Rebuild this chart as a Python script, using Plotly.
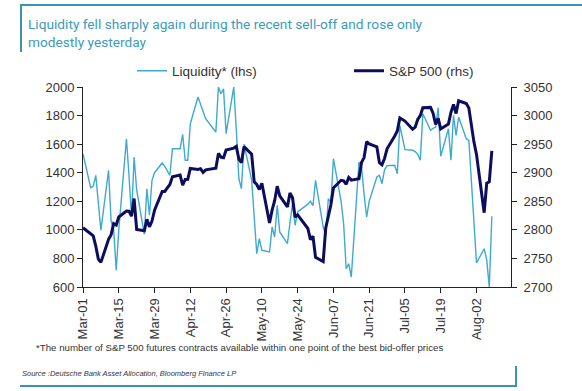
import plotly.graph_objects as go

# ---- data ----
trading_days = {
    "03": [1, 4, 5, 6, 7, 8, 11, 12, 13, 14, 15, 18, 19, 20, 21, 22, 25, 26, 27, 28, 29],
    "04": [1, 2, 3, 4, 5, 8, 9, 10, 11, 12, 15, 16, 17, 18, 22, 23, 24, 25, 26, 29, 30],
    "05": [1, 2, 3, 6, 7, 8, 9, 10, 13, 14, 15, 16, 17, 20, 21, 22, 23, 24, 28, 29, 30, 31],
    "06": [3, 4, 5, 6, 7, 10, 11, 12, 13, 14, 17, 18, 19, 20, 21, 24, 25, 26, 27, 28],
    "07": [1, 2, 3, 5, 8, 9, 10, 11, 12, 15, 16, 17, 18, 19, 22, 23, 24, 25, 26, 29, 30, 31],
    "08": [1, 2, 5, 6, 7, 8],
}
dates = [f"2019-{m}-{d:02d}" for m, days in trading_days.items() for d in days]

liquidity = [
    1533, 1295, 1305, 1382, 1190, 997, 1417, 1060, 1000, 717, 1000, 1638, 1380, 1090, 1510, 1280, 969, 1288, 1102, 1347, 1400,
    1468, 1445, 1415, 1382, 1568, 1568, 1669, 1487, 1487, 1743, 1930, 1880, 1825, 1778, 1685, 2000, 1953, 1988, 1673, 2000, 1700,
    1358, 1288, 1600, 1350, 1100, 833, 938, 857, 845, 1020, 950, 1172, 985, 903, 1050, 1183, 1032, 1125, 1180, 1200, 1170, 1347,
    1020, 962, 1218, 1190, 1498, 1200, 1043, 728, 763, 670, 1475, 1440, 1250, 1090, 1200, 1370, 1382, 1323, 1420, 1450,
    1452, 1393, 1732, 1561, 1557, 1548, 1530, 1487, 1813, 1697, 1710, 1720, 1855, 1515, 1708, 1487, 1802, 1662, 1790, 1638, 1627, 1316,
    1043, 768, 868, 790, 600, 1095,
]

sp500 = [
    2803.69, 2792.81, 2789.65, 2771.45, 2748.93, 2743.07, 2783.30, 2791.52, 2810.92, 2808.48, 2822.48, 2832.94, 2832.57, 2824.23, 2854.88, 2800.71, 2798.36, 2818.46, 2805.37, 2815.44, 2834.40,
    2867.19, 2867.24, 2873.40, 2879.39, 2892.74, 2895.77, 2878.20, 2888.21, 2888.32, 2907.41, 2905.58, 2907.06, 2900.45, 2905.03, 2907.97, 2933.68, 2927.25, 2926.17, 2939.88, 2943.03, 2945.83,
    2923.73, 2917.52, 2945.64, 2932.47, 2884.05, 2879.42, 2870.72, 2881.40, 2811.87, 2834.41, 2850.96, 2876.32, 2859.53, 2840.23, 2864.36, 2856.27, 2822.24, 2826.06, 2802.39, 2783.02, 2788.86, 2752.06,
    2744.45, 2803.27, 2826.15, 2843.49, 2873.34, 2886.73, 2885.72, 2879.84, 2891.64, 2886.98, 2889.67, 2917.75, 2926.46, 2954.18, 2950.46, 2945.35, 2917.38, 2913.78, 2924.92, 2941.76,
    2964.33, 2973.01, 2995.82, 2990.41, 2975.95, 2979.63, 2993.07, 2999.91, 3013.77, 3014.30, 3004.04, 2984.42, 2995.11, 2976.61, 2985.03, 3005.47, 3019.56, 3003.67, 3025.86, 3020.97, 3013.18, 2980.38,
    2953.56, 2932.05, 2830.00, 2881.77, 2883.98, 2938.09,
]

tick_dates = ["2019-03-01", "2019-03-15", "2019-03-29", "2019-04-12", "2019-04-26", "2019-05-10",
              "2019-05-24", "2019-06-07", "2019-06-21", "2019-07-05", "2019-07-19", "2019-08-02"]
tick_labels = ["Mar-01", "Mar-15", "Mar-29", "Apr-12", "Apr-26", "May-10",
               "May-24", "Jun-07", "Jun-21", "Jul-05", "Jul-19", "Aug-02"]
left_ticks = [600, 800, 1000, 1200, 1400, 1600, 1800, 2000]
right_ticks = [2700, 2750, 2800, 2850, 2900, 2950, 3000, 3050]

title_text = "Liquidity fell sharply again during the recent sell-off and rose only<br>modestly yesterday"
foot_text = "*The number of S&P 500 futures contracts available within one point of the best bid-offer prices"
source_text = "Source :Deutsche Bank Asset Allocation, Bloomberg Finance LP"

# ---- geometry helpers (pixel -> paper) ----
W, H = 582, 391
L, R, T, B = 83, 511, 87, 287
def px(x):
    return (x - L) / (R - L)
def py(y):
    return (B - y) / (B - T)

FONT = "Liberation Sans, Arial, sans-serif"
TEAL = "#3a93b3"

fig = go.Figure()
fig.add_trace(go.Scatter(x=dates, y=liquidity, name="Liquidity* (lhs)", mode="lines",
                         line=dict(color="#3eaacf", width=1.4), yaxis="y", legend="legend"))
fig.add_trace(go.Scatter(x=dates, y=sp500, name="S&P 500 (rhs)", mode="lines",
                         line=dict(color="#0d0d5e", width=3), yaxis="y2", legend="legend2"))

axis_common = dict(showline=True, linecolor="#222", linewidth=1, ticks="outside",
                   ticklen=5, tickcolor="#222", showgrid=False, zeroline=False,
                   tickfont=dict(family=FONT, size=13, color="#333"))
legend_common = dict(orientation="h", xanchor="left", yanchor="middle", y=py(71),
                     font=dict(family=FONT, size=13.5, color="#333"),
                     bgcolor="rgba(0,0,0,0)", itemwidth=30)

fig.update_layout(
    width=W, height=H,
    margin=dict(l=L, r=W - R, t=T, b=H - B, pad=0),
    paper_bgcolor="white", plot_bgcolor="white",
    showlegend=True,
    legend=dict(x=px(132), **legend_common),
    legend2=dict(x=px(349), **legend_common),
    xaxis=dict(type="date", range=["2019-03-01", "2019-08-15 12:00"],
               tickmode="array", tickvals=tick_dates, ticktext=tick_labels,
               tickangle=-90, **axis_common),
    yaxis=dict(range=[600, 2000], tickmode="array", tickvals=left_ticks, **axis_common),
    yaxis2=dict(range=[2700, 3050], tickmode="array", tickvals=right_ticks,
                overlaying="y", side="right", ticklabelstandoff=4, **axis_common),
    annotations=[
        dict(text=title_text, xref="paper", yref="paper", x=px(26), y=py(14),
             xanchor="left", yanchor="top", align="left", showarrow=False,
             font=dict(family="Roboto, sans-serif", size=13.7, color="#3a9bbb")),
        dict(text=foot_text, xref="paper", yref="paper", x=px(34), y=py(347),
             xanchor="left", yanchor="middle", align="left", showarrow=False,
             font=dict(family=FONT, size=9.7, color="#333")),
        dict(text=f"<i>{source_text}</i>", xref="paper", yref="paper", x=px(20), y=py(373),
             xanchor="left", yanchor="middle", align="left", showarrow=False,
             font=dict(family=FONT, size=7.5, color="#333")),
    ],
    shapes=[
        dict(type="line", xref="paper", yref="paper", x0=px(20), x1=px(582), y0=py(5), y1=py(5),
             line=dict(color=TEAL, width=2)),
        dict(type="line", xref="paper", yref="paper", x0=px(21), x1=px(21), y0=py(5), y1=py(52),
             line=dict(color=TEAL, width=2)),
        dict(type="line", xref="paper", yref="paper", x0=px(20), x1=px(517), y0=py(386), y1=py(386),
             line=dict(color=TEAL, width=2)),
        dict(type="line", xref="paper", yref="paper", x0=px(516), x1=px(516), y0=py(366), y1=py(386),
             line=dict(color=TEAL, width=2)),
    ],
)

fig.write_html("out.html", config={"displayModeBar": False},
               post_script="document.body.style.margin='0';document.body.style.overflow='hidden';")
